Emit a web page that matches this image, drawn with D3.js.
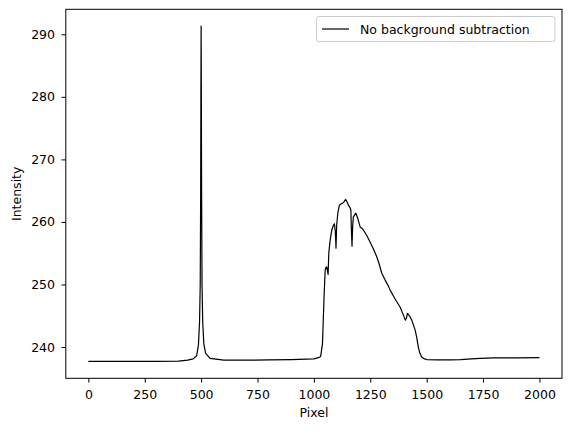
<!DOCTYPE html>
<html>
<head>
<meta charset="utf-8">
<script src="https://cdn.jsdelivr.net/npm/d3@7"></script>
<style>
  body { margin: 0; background: #fff; }
  text { font-family: "DejaVu Sans", sans-serif; }
</style>
</head>
<body>
<div id="chart"></div>
<script>
// values
var pixel = [0, 100, 200, 300, 400, 440, 465, 480, 488, 493, 496, 498, 499, 500, 501, 502, 504, 507, 512, 520, 540, 600, 700, 800, 900, 1000, 1020, 1030,
  1038, 1045, 1050, 1053, 1057, 1063, 1066, 1072, 1080, 1087, 1091, 1095, 1098, 1101, 1106, 1113, 1122, 1131, 1141, 1147, 1153, 1160, 1164, 1166,
  1169, 1172, 1175, 1186, 1195, 1205, 1212, 1220, 1235, 1249, 1265, 1279, 1290, 1301, 1316, 1328, 1338, 1355, 1368, 1382, 1397, 1405, 1410, 1415,
  1425, 1434, 1449, 1456, 1463, 1470, 1478, 1490, 1501, 1550, 1604, 1650, 1700, 1737, 1800, 1900, 2000];
var intensity = [237.7, 237.7, 237.7, 237.7, 237.75, 237.9, 238.1, 238.6, 240.3, 244, 250, 265, 280, 291.3, 281, 266, 250, 244, 240.5, 239, 238.2, 237.9, 237.9, 237.95, 238.0, 238.1, 238.3, 238.5,
  240.5, 248, 252.3, 252.7, 252.8, 251.6, 255, 257.1, 258.8, 259.5, 259.7, 258.5, 255.8, 259.5, 261.4, 262.7, 262.9, 263.1, 263.6, 263.2, 262.7, 262.3, 261.9, 259,
  256.1, 259.5, 260.8, 261.4, 260.5, 259.2, 259.0, 258.7, 257.8, 256.8, 255.6, 254.4, 253.2, 251.8, 250.7, 249.9, 249.1, 248.0, 247.2, 246.4, 245.1, 244.3, 244.6, 245.4,
  244.9, 244.3, 242.7, 241.5, 240.0, 239.0, 238.4, 238.1, 238.0, 237.95, 237.95, 238.0, 238.1, 238.2, 238.25, 238.25, 238.3];
var xTicks = [0, 250, 500, 750, 1000, 1250, 1500, 1750, 2000];
var yTicks = [240, 250, 260, 270, 280, 290];
var seriesName = "No background subtraction";

var W = 571, H = 432;
var margin = {top: 9.3, right: 571 - 562, bottom: 432 - 378.3, left: 65.8};
var width = W - margin.left - margin.right,
    height = H - margin.top - margin.bottom;

var svg = d3.select("#chart").append("svg")
    .attr("width", W)
    .attr("height", H);

var g = svg.append("g")
    .attr("transform", "translate(" + margin.left + "," + margin.top + ")");

var x = d3.scaleLinear().domain([-100, 2100]).range([0, width]);
var y = d3.scaleLinear().domain([235.0, 294.0]).range([height, 0]);

var xAxis = g.append("g")
    .attr("transform", "translate(0," + height + ")")
    .call(d3.axisBottom(x).tickValues(xTicks).tickSize(4.3).tickPadding(7.5).tickFormat(d3.format("d")));
var yAxis = g.append("g")
    .call(d3.axisLeft(y).tickValues(yTicks).tickSize(4.3).tickPadding(6.5).tickFormat(d3.format("d")));

[xAxis, yAxis].forEach(function(a) {
  a.select(".domain").remove();
  a.selectAll("line").attr("stroke", "#000").attr("stroke-width", 1);
  a.selectAll("text").attr("fill", "#000").style("font-size", "12.5px").style("font-family", "DejaVu Sans, sans-serif");
});

var line = d3.line()
    .x(function(d, i) { return x(pixel[i]); })
    .y(function(d) { return y(d); });

g.append("path")
    .datum(intensity)
    .attr("fill", "none")
    .attr("stroke", "#000")
    .attr("stroke-width", 1.2)
    .attr("stroke-linejoin", "round")
    .attr("d", line);

// frame
g.append("rect")
    .attr("width", width).attr("height", height)
    .attr("fill", "none").attr("stroke", "#000").attr("stroke-width", 1);

// axis labels
svg.append("text")
    .attr("x", margin.left + width / 2).attr("y", 417)
    .attr("text-anchor", "middle")
    .style("font-size", "12.5px")
    .text("Pixel");
svg.append("text")
    .attr("transform", "translate(21," + (margin.top + height / 2) + ") rotate(-90)")
    .attr("text-anchor", "middle")
    .style("font-size", "12.5px")
    .text("Intensity");

// legend
var leg = svg.append("g");
leg.append("rect")
    .attr("x", 316.5).attr("y", 16.5).attr("width", 238.5).attr("height", 25)
    .attr("rx", 2.5)
    .attr("fill", "#fff").attr("fill-opacity", 0.8)
    .attr("stroke", "#ccc").attr("stroke-width", 1);
leg.append("line")
    .attr("x1", 322).attr("x2", 349).attr("y1", 29).attr("y2", 29)
    .attr("stroke", "#000").attr("stroke-width", 1.2);
leg.append("text")
    .attr("x", 360).attr("y", 33.5)
    .style("font-size", "12.5px")
    .text(seriesName);
</script>
</body>
</html>
